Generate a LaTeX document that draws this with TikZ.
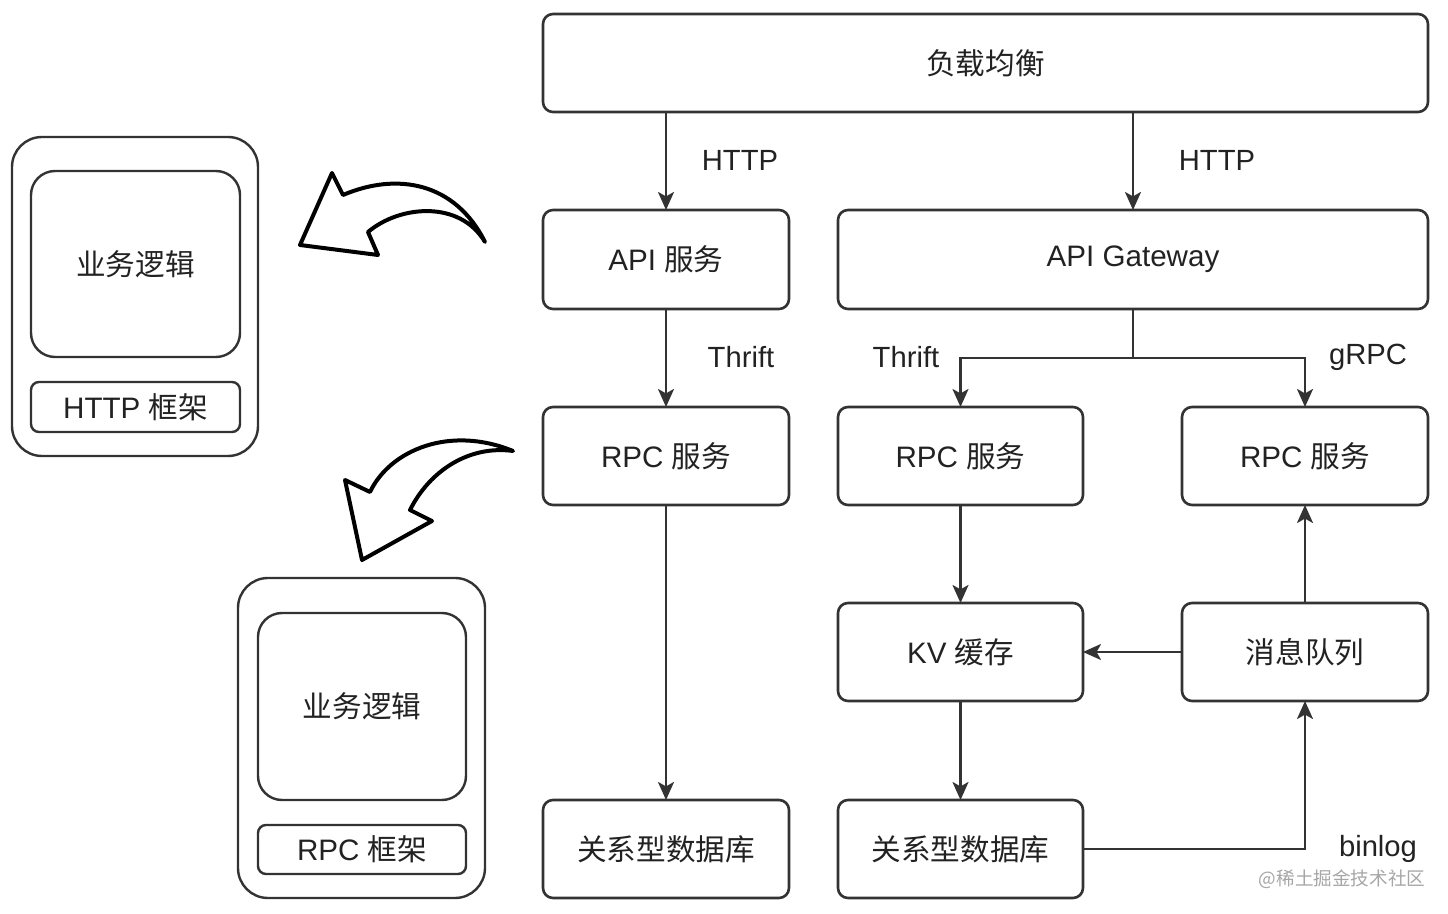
\documentclass[tikz,border=0pt]{standalone}
\usepackage{fontspec}
\setmainfont{Liberation Sans}
\newfontfamily\cjk{Noto Sans CJK SC}
\usetikzlibrary{arrows.meta}
\definecolor{linec}{HTML}{333333}
\definecolor{txt}{HTML}{222222}
\begin{document}
\begin{tikzpicture}[x=0.5pt,y=-0.5pt,
  box/.style={draw=linec, line width=1.3pt, rounded corners=5pt, fill=white, inner sep=0pt, outer sep=0pt, text=txt, font=\fontsize{14.8}{17}\selectfont},
  conn/.style={draw=linec, line width=1.2pt, -{Stealth[length=9pt,width=8pt,inset=2.2pt]}},
  plain/.style={draw=linec, line width=1.2pt},
  lbl/.style={text=txt, font=\fontsize{14.6}{17}\selectfont},
  panel/.style={draw=linec, line width=1.2pt, fill=white, inner sep=0pt, outer sep=0pt, text=txt, font=\fontsize{14.8}{17}\selectfont},
  bigarrow/.style={draw=black, line width=2pt, fill=white, line join=round}
]
\useasboundingbox (0,0) rectangle (1448,914);

% main boxes
\node[box, minimum width=442.5pt, minimum height=49pt] (lb) at (985.5,63) {\cjk 负载均衡};
\node[box, minimum width=123pt, minimum height=49.5pt] (api) at (666,259.5) {API {\cjk 服务}};
\node[box, minimum width=295pt, minimum height=49.5pt] (gw) at (1133,259.5) {API Gateway};
\node[box, minimum width=123pt, minimum height=49pt] (rpc1) at (666,456) {RPC {\cjk 服务}};
\node[box, minimum width=122.5pt, minimum height=49pt] (rpc2) at (960.5,456) {RPC {\cjk 服务}};
\node[box, minimum width=123pt, minimum height=49pt] (rpc3) at (1305,456) {RPC {\cjk 服务}};
\node[box, minimum width=122.5pt, minimum height=49pt] (kv) at (960.5,652) {KV {\cjk 缓存}};
\node[box, minimum width=123pt, minimum height=49pt] (mq) at (1305,652) {\cjk 消息队列};
\node[box, minimum width=123pt, minimum height=49pt] (db1) at (666,849) {\cjk 关系型数据库};
\node[box, minimum width=122.5pt, minimum height=49pt] (db2) at (960.5,849) {\cjk 关系型数据库};

% connectors
\draw[conn] (lb.south -| api) -- (api.north);
\draw[conn] (lb.south -| gw) -- (gw.north);
\node[lbl] (h1) at (740,160) {HTTP};
\node[lbl] (h2) at (1217,160) {HTTP};
\draw[conn] (api) -- (rpc1);
\node[lbl] (t1) at (741,357) {Thrift};
\coordinate (split) at (1133,358);
\draw[plain] (gw.south) -- (split);
\draw[conn] (split) -| (rpc2.north);
\draw[conn] (split) -| (rpc3.north);
\node[lbl] (t2) at (906,357) {Thrift};
\node[lbl] (g1) at (1368,357) {gRPC};
\draw[conn] (rpc1) -- (db1);
\draw[conn] (rpc2) -- (kv);
\draw[conn] (kv) -- (db2);
\draw[conn] (mq) -- (kv);
\draw[conn] (mq) -- (rpc3);
\draw[conn] (db2.east) -| (mq.south);
\node[lbl] (bl) at (1378,849) {binlog};
\node[text=gray!70, font=\cjk\fontsize{9.3}{11}\selectfont] (wm) at (1342,879) {@稀土掘金技术社区};

% left panels
\node[panel, rounded corners=15pt, minimum width=123pt, minimum height=159.5pt] (out1) at (135,296.5) {};
\node[panel, rounded corners=12pt, minimum width=104.5pt, minimum height=93pt] (biz1) at (135.5,264) {\cjk 业务逻辑};
\node[panel, rounded corners=4pt, minimum width=104.5pt, minimum height=25pt] (fw1) at (135.5,407) {HTTP {\cjk 框架}};

\node[panel, rounded corners=15pt, minimum width=123.5pt, minimum height=160pt] (out2) at (361.5,738) {};
\node[panel, rounded corners=12pt, minimum width=104pt, minimum height=93.5pt] (biz2) at (362,706.5) {\cjk 业务逻辑};
\node[panel, rounded corners=4pt, minimum width=104pt, minimum height=24.5pt] (fw2) at (362,849.5) {RPC {\cjk 框架}};

% hollow curved arrows
\draw[bigarrow] (485,242) .. controls (455,182) and (397,172) .. (343,195) -- (332,173) -- (300,245) -- (378,255) -- (368,232) .. controls (400,205) and (460,200) .. (485,242) -- cycle;
\draw[bigarrow] (513,451) .. controls (450,425) and (390,450) .. (370,492) -- (345,480) -- (362,560) -- (432,521) -- (410,510) .. controls (430,470) and (470,445) .. (513,451) -- cycle;
\end{tikzpicture}
\end{document}
